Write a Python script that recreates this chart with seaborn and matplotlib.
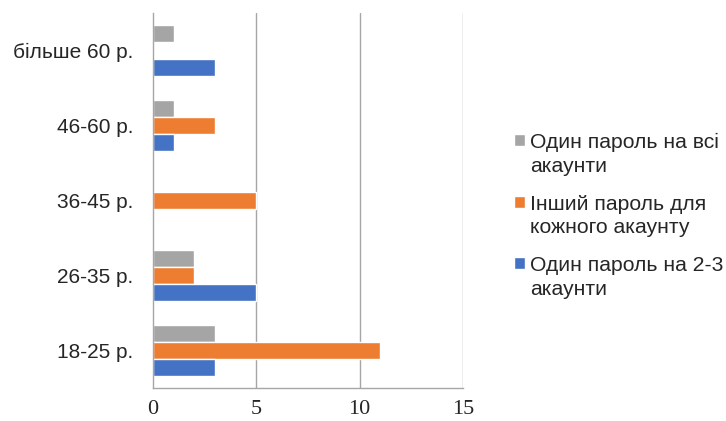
import pandas as pd
import matplotlib.pyplot as plt
import seaborn as sns
from matplotlib.patches import Rectangle
from matplotlib.legend_handler import HandlerPatch

# Дані
age_groups = ['більше 60 р.', '46-60 р.', '36-45 р.', '26-35 р.', '18-25 р.']
one_for_all = [1, 1, 0, 2, 3]
different_each = [0, 3, 5, 2, 11]
one_for_2_3 = [3, 1, 0, 5, 3]

series_names = ['Один пароль на всі\nакаунти',
                'Інший пароль для\nкожного акаунту',
                'Один пароль на 2-3\nакаунти']
colors = ['#A5A5A5', '#ED7D31', '#4472C4']

df = pd.DataFrame({'Вік': age_groups,
                   series_names[0]: one_for_all,
                   series_names[1]: different_each,
                   series_names[2]: one_for_2_3})
df_long = df.melt(id_vars='Вік', var_name='Серія', value_name='Кількість')

sns.set_style('white')
plt.rcParams['font.family'] = ['Liberation Sans', 'DejaVu Sans']

fig = plt.figure(figsize=(7.26, 4.21), dpi=100)
ax = fig.add_axes([0.2107, 0.0784, 0.427, 0.891])

sns.barplot(data=df_long, y='Вік', x='Кількість', hue='Серія',
            order=age_groups, hue_order=series_names, palette=colors,
            orient='h', width=0.67, saturation=1, ax=ax, legend=True)

ax.set_xlim(0, 15)
ax.set_xticks([0, 5, 10, 15])
ax.set_xlabel('')
ax.set_ylabel('')
ax.set_ylim(4.5, -0.5)

grid_col = '#A6A6A6'
for x in [5, 10, 15]:
    ax.axvline(x, color=grid_col, lw=1, zorder=0)
for side in ['top', 'right']:
    ax.spines[side].set_visible(False)
for side in ['left', 'bottom']:
    ax.spines[side].set_color(grid_col)
    ax.spines[side].set_linewidth(1)

ax.tick_params(axis='y', which='major', length=0, pad=14, labelsize=15)
ax.set_yticks([i - 0.5 for i in range(6)], minor=True)
ax.tick_params(axis='y', which='minor', length=5, color=grid_col, width=1)
ax.tick_params(axis='x', length=4, color=grid_col, width=1, pad=5)
for lbl in ax.get_xticklabels():
    lbl.set_fontfamily('Liberation Serif')
    lbl.set_fontsize(16)


# маркер легенди на рівні першого рядка підпису
def top_square(legend, orig_handle, xdescent, ydescent, width, height, fontsize):
    return Rectangle((-xdescent, -ydescent + 0.68 * fontsize), width, height)


handles, labels = ax.get_legend_handles_labels()
leg = ax.legend(handles, labels, loc='center left', bbox_to_anchor=(0.708, 0.487),
                bbox_transform=fig.transFigure, frameon=False, fontsize=15.2,
                handlelength=0.5, handleheight=0.5, handletextpad=0.25,
                labelspacing=0.9, borderaxespad=0, borderpad=0,
                handler_map={h: HandlerPatch(patch_func=top_square) for h in handles})
for t in leg.get_texts():
    t.set_linespacing(1.3)

plt.savefig('out.png', dpi=100)
